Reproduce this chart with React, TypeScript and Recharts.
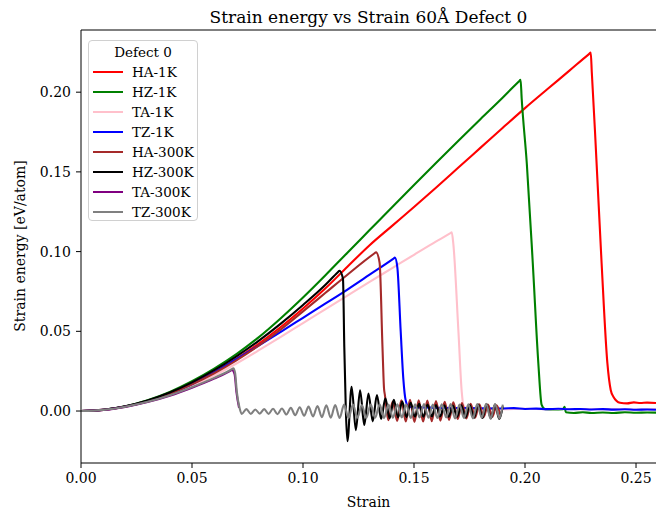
import { Line, LineChart, ReferenceLine, XAxis, YAxis } from "recharts";

type Pt = [number, number];

const strainTicks = [0, 0.05, 0.1, 0.15, 0.2, 0.25];
const energyTicks = [0, 0.05, 0.1, 0.15, 0.2];

// [strain, strain energy]
const haK1: Pt[] = [
  [0, 0], [0.01, 0.0007], [0.02, 0.0028], [0.03, 0.0063], [0.04, 0.011], [0.05, 0.017],
  [0.06, 0.0243], [0.07, 0.0327], [0.08, 0.0422], [0.09, 0.0527], [0.1, 0.0643], [0.11, 0.0768],
  [0.12, 0.0905], [0.13, 0.104], [0.14, 0.116], [0.15, 0.128], [0.16, 0.1402], [0.17, 0.1527],
  [0.18, 0.1652], [0.19, 0.1777], [0.2, 0.19], [0.21, 0.2018], [0.22, 0.2135], [0.2288, 0.2239],
  [0.2296, 0.2248], [0.2301, 0.212], [0.2315, 0.176], [0.2345, 0.0927], [0.2371, 0.03],
  [0.2386, 0.0132], [0.2398, 0.009], [0.2428, 0.0052], [0.246, 0.0048], [0.249, 0.0054],
  [0.252, 0.005], [0.255, 0.0053], [0.259, 0.005],
];

const hzK1: Pt[] = [
  [0, 0], [0.01, 0.0008], [0.02, 0.003], [0.03, 0.0068], [0.04, 0.012], [0.05, 0.0187],
  [0.06, 0.0266], [0.07, 0.0357], [0.08, 0.0462], [0.09, 0.0582], [0.1, 0.0712], [0.11, 0.085],
  [0.12, 0.0993], [0.13, 0.1135], [0.14, 0.1277], [0.15, 0.1418], [0.16, 0.1558], [0.17, 0.1696],
  [0.18, 0.1832], [0.19, 0.1967], [0.1972, 0.2067], [0.198, 0.2078], [0.1985, 0.196],
  [0.2008, 0.1554], [0.2035, 0.0927], [0.206, 0.03], [0.2075, 0.0038], [0.209, 0.0012],
  [0.213, 0.001], [0.2172, 0.0012], [0.2178, 0.0026], [0.2184, -0.0008], [0.222, -0.0012],
  [0.226, -0.0008], [0.23, -0.0012], [0.235, -0.0009], [0.24, -0.0012], [0.245, -0.0008],
  [0.25, -0.0011], [0.255, -0.0009], [0.259, -0.001],
];

const taK1: Pt[] = [
  [0, 0], [0.01, 0.0007], [0.02, 0.0027], [0.03, 0.0058], [0.04, 0.0102], [0.05, 0.0157],
  [0.06, 0.0223], [0.07, 0.0298], [0.08, 0.038], [0.09, 0.0465], [0.1, 0.0552], [0.11, 0.0638],
  [0.12, 0.0724], [0.13, 0.081], [0.14, 0.0895], [0.15, 0.098], [0.16, 0.1064], [0.1662, 0.1114],
  [0.167, 0.1121], [0.1677, 0.105], [0.17, 0.05], [0.1715, 0.012], [0.1722, 0.004], [0.174, 0.0012],
  [0.18, 0.0013], [0.19, 0.0011], [0.2, 0.0014], [0.21, 0.0012], [0.22, 0.0013], [0.23, 0.0011],
  [0.24, 0.0012], [0.25, 0.001], [0.259, 0.0012],
];

const tzK1: Pt[] = [
  [0, 0], [0.01, 0.0007], [0.02, 0.0028], [0.03, 0.0062], [0.04, 0.011], [0.05, 0.0168],
  [0.06, 0.0242], [0.07, 0.0325], [0.08, 0.041], [0.09, 0.0497], [0.1, 0.0585], [0.11, 0.0673],
  [0.12, 0.0762], [0.13, 0.0855], [0.1406, 0.0954], [0.1414, 0.0962], [0.1425, 0.09], [0.144, 0.05],
  [0.1452, 0.02], [0.1462, 0.007], [0.1475, 0.0028], [0.15, 0.0022], [0.155, 0.0023], [0.16, 0.002],
  [0.17, 0.0019], [0.18, 0.0017], [0.19, 0.0016], [0.195, 0.0018], [0.2, 0.0013], [0.205, 0.0015],
  [0.21, 0.0012], [0.215, 0.0014], [0.22, 0.0011], [0.225, 0.0013], [0.23, 0.001], [0.235, 0.0012],
  [0.24, 0.0009], [0.245, 0.0011], [0.25, 0.0008], [0.255, 0.001], [0.259, 0.0008],
];

const haK300: Pt[] = [
  [0, 0], [0.01, 0.0007], [0.02, 0.0028], [0.03, 0.0062], [0.04, 0.0108], [0.05, 0.0167],
  [0.06, 0.0237], [0.07, 0.0318], [0.08, 0.041], [0.09, 0.0512], [0.1, 0.0625], [0.11, 0.074],
  [0.12, 0.0855], [0.1321, 0.0988], [0.1329, 0.0996], [0.1345, 0.093], [0.1358, 0.04], [0.1365, 0.014],
  [0.1369, 0.01], [0.1384, -0.0058], [0.1404, 0.006], [0.1424, -0.0062], [0.1443, 0.0068],
  [0.1463, -0.0066], [0.1482, 0.007], [0.1502, -0.0068], [0.1521, 0.0068], [0.1541, -0.0066],
  [0.156, 0.0066], [0.158, -0.0064], [0.1599, 0.0062], [0.1619, -0.006], [0.1638, 0.0058],
  [0.1658, -0.0056], [0.1677, 0.0054], [0.1697, -0.005], [0.1716, 0.005], [0.1736, -0.0046],
  [0.1755, 0.0046], [0.1775, -0.0042], [0.1794, 0.0042], [0.1814, -0.0038], [0.1833, 0.004],
  [0.1853, -0.0036], [0.1872, 0.0036], [0.189, -0.003],
];

const hzK300: Pt[] = [
  [0, 0], [0.01, 0.0008], [0.02, 0.003], [0.03, 0.0066], [0.04, 0.0116], [0.05, 0.018],
  [0.06, 0.0256], [0.07, 0.0343], [0.08, 0.044], [0.09, 0.0548], [0.1, 0.0665], [0.11, 0.079],
  [0.1157, 0.0871], [0.1164, 0.088], [0.118, 0.083], [0.1186, 0.04], [0.1193, 0.0], [0.12, -0.019],
  [0.1219, 0.0152], [0.1238, -0.012], [0.1257, 0.013], [0.1276, -0.0088], [0.1295, 0.011],
  [0.1314, -0.0065], [0.1333, 0.01], [0.1352, -0.005], [0.1371, 0.008], [0.139, -0.0045],
  [0.1409, 0.007], [0.1428, -0.004], [0.1447, 0.006], [0.1466, -0.0038], [0.1485, 0.0052],
  [0.1504, -0.0036], [0.1523, 0.0045], [0.1542, -0.0036], [0.1561, 0.004], [0.158, -0.0034],
  [0.1599, 0.0038], [0.1618, -0.0034], [0.1637, 0.0036], [0.1656, -0.0036], [0.1675, 0.0034],
  [0.1694, -0.0036], [0.1713, 0.0036], [0.1732, -0.004], [0.1751, 0.0038], [0.177, -0.0042],
  [0.1789, 0.004], [0.1808, -0.0044], [0.1827, 0.0042], [0.1846, -0.0046], [0.1865, 0.004],
  [0.1884, -0.005], [0.19, 0.003],
];

// TA-300K is almost entirely hidden under TZ-300K; only its rise shows
const taK300: Pt[] = [
  [0, 0], [0.01, 0.0006], [0.02, 0.0026], [0.03, 0.0056], [0.04, 0.0096], [0.05, 0.0146],
  [0.06, 0.0203], [0.0673, 0.0252], [0.068, 0.0258], [0.0692, 0.023], [0.07, 0.012], [0.0712, 0.002],
];

const tzK300: Pt[] = [
  [0, 0], [0.01, 0.0007], [0.02, 0.0027], [0.03, 0.0058], [0.04, 0.0099], [0.05, 0.015],
  [0.06, 0.0208], [0.0679, 0.0262], [0.0686, 0.0268], [0.0694, 0.024], [0.0702, 0.012], [0.0714, 0.002],
  [0.0724, -0.0018], [0.0745, 0.0012], [0.0765, -0.0018], [0.0785, 0.001], [0.0805, -0.0016],
  [0.0825, 0.0012], [0.0845, -0.0018], [0.0865, 0.0014], [0.0885, -0.002], [0.0905, 0.0016],
  [0.0925, -0.0022], [0.0945, 0.002], [0.0965, -0.0026], [0.0985, 0.0024], [0.1005, -0.003],
  [0.1025, 0.0028], [0.1045, -0.0034], [0.1065, 0.0032], [0.1085, -0.0038], [0.1105, 0.0036],
  [0.1125, -0.0042], [0.1145, 0.0038], [0.1165, -0.0044], [0.1185, 0.004], [0.1205, -0.0044],
  [0.1225, 0.004], [0.1245, -0.0042], [0.1265, 0.0038], [0.1285, -0.0044], [0.1305, 0.004],
  [0.1325, -0.0042], [0.1345, 0.0042], [0.1365, -0.0044], [0.1385, 0.004], [0.1405, -0.0042],
  [0.1425, 0.0042], [0.1445, -0.004], [0.1465, 0.004], [0.1485, -0.0044], [0.1505, 0.0042],
  [0.1525, -0.004], [0.1545, 0.0044], [0.1565, -0.0042], [0.1585, 0.004], [0.1605, -0.0044],
  [0.1625, 0.0042], [0.1645, -0.004], [0.1665, 0.0044], [0.1685, -0.0046], [0.1705, 0.004],
  [0.1725, -0.0044], [0.1745, 0.0042], [0.1765, -0.0046], [0.1785, 0.0044], [0.1805, -0.0042],
  [0.1825, 0.0046], [0.1845, -0.0048], [0.1865, 0.0044], [0.1885, -0.0046], [0.19, 0.004],
];

const series = [
  { name: "HA-1K", color: "#ff0000", pts: haK1 },
  { name: "HZ-1K", color: "#008000", pts: hzK1 },
  { name: "TA-1K", color: "#ffc0cb", pts: taK1 },
  { name: "TZ-1K", color: "#0000ff", pts: tzK1 },
  { name: "HA-300K", color: "#a52a2a", pts: haK300 },
  { name: "HZ-300K", color: "#000000", pts: hzK300 },
  { name: "TA-300K", color: "#800080", pts: taK300 },
  { name: "TZ-300K", color: "#808080", pts: tzK300 },
];

const FONT = "'DejaVu Serif', serif";
const Y_TOP = 0.239;

function toRows(pts: Pt[]) {
  return pts.map(([s, e]) => ({ s, e }));
}

function YLabel() {
  return (
    <text
      x={20}
      y={246}
      transform="rotate(-90 20 246)"
      textAnchor="middle"
      dominantBaseline="central"
      fontFamily={FONT}
      fontSize={14}
      fill="#000"
    >
      Strain energy [eV/atom]
    </text>
  );
}

export default function App() {
  const tickStyle = { fontFamily: FONT, fontSize: 14, fill: "#000" };
  return (
    <div style={{ position: "absolute", left: 0, top: 0, width: 656, height: 515, background: "#fff" }}>
      <div
        style={{
          position: "absolute",
          top: 6,
          left: 81,
          width: 575,
          textAlign: "center",
          fontFamily: FONT,
          fontSize: 17,
          lineHeight: "22px",
        }}
      >
        Strain energy vs Strain 60Å Defect 0
      </div>
      <LineChart width={656} height={515} margin={{ top: 30, right: 0, bottom: 0, left: 0 }}>
        <XAxis
          dataKey="s"
          type="number"
          domain={[0, 0.259]}
          allowDataOverflow
          ticks={strainTicks}
          tickFormatter={(v: number) => v.toFixed(2)}
          height={52}
          tickSize={5}
          tickMargin={5}
          stroke="#000"
          tick={tickStyle}
          label={{ value: "Strain", position: "insideBottom", offset: 8, style: { fontFamily: FONT, fontSize: 14, fill: "#000" } }}
        />
        <YAxis
          type="number"
          domain={[-0.0326, Y_TOP]}
          allowDataOverflow
          ticks={energyTicks}
          tickFormatter={(v: number) => v.toFixed(2)}
          width={81}
          tickSize={5}
          tickMargin={5}
          stroke="#000"
          tick={tickStyle}
          label={{ content: () => <YLabel /> }}
        />
        <ReferenceLine y={Y_TOP} stroke="#000" strokeWidth={1.2} />
        {series.map((d) => (
          <Line
            key={d.name}
            data={toRows(d.pts)}
            dataKey="e"
            name={d.name}
            type="monotone"
            stroke={d.color}
            strokeWidth={2.1}
            dot={false}
            activeDot={false}
            isAnimationActive={false}
          />
        ))}
      </LineChart>
      <div
        style={{
          position: "absolute",
          left: 88,
          top: 40,
          width: 110,
          height: 181,
          boxSizing: "border-box",
          border: "1px solid #d0d0d0",
          borderRadius: 4,
          background: "rgba(255,255,255,0.8)",
          fontFamily: FONT,
          fontSize: 13.5,
          lineHeight: "20px",
          whiteSpace: "nowrap",
        }}
      >
        <div style={{ textAlign: "center", marginTop: 1 }}>Defect 0</div>
        {series.map((d) => (
          <div key={d.name} style={{ display: "flex", alignItems: "center" }}>
            <span style={{ display: "inline-block", marginLeft: 4, width: 30, height: 2, background: d.color }} />
            <span style={{ marginLeft: 9 }}>{d.name}</span>
          </div>
        ))}
      </div>
    </div>
  );
}
